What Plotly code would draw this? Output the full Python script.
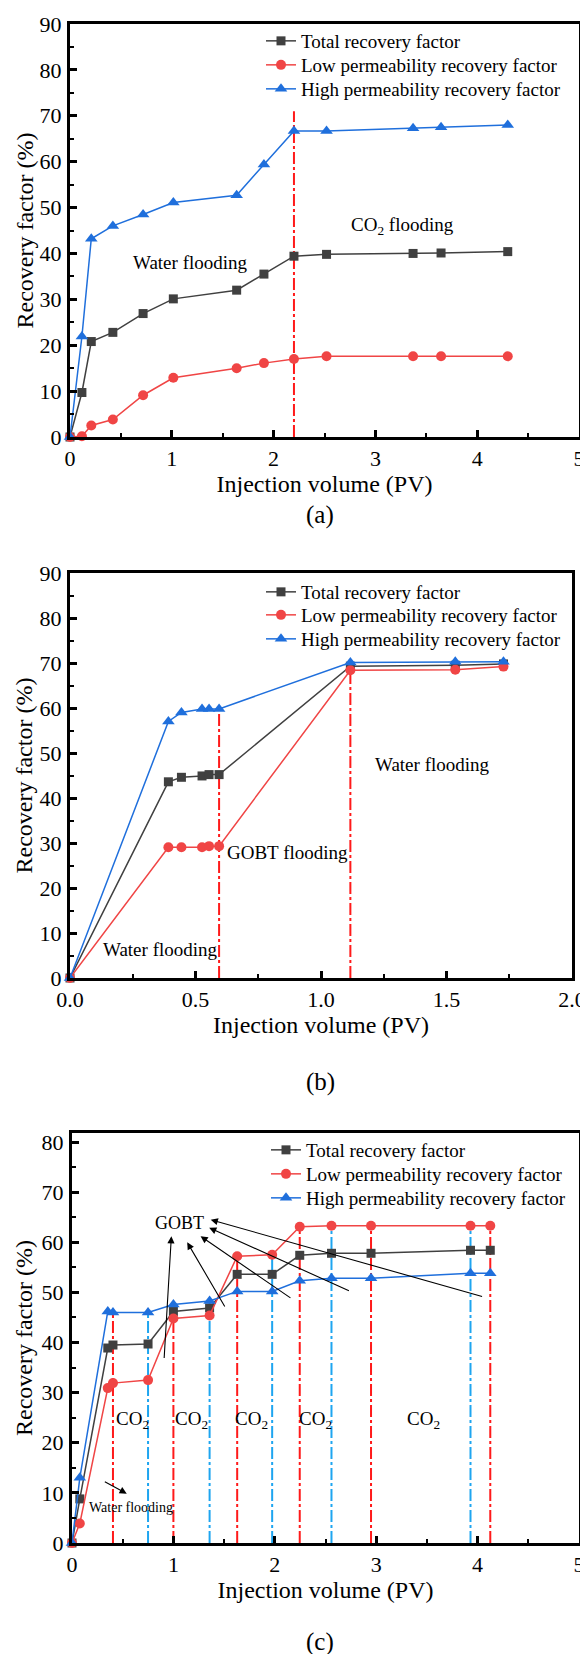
import plotly.graph_objects as go

# ---------------- data ----------------
series_names = ["Total recovery factor",
                "Low permeability recovery factor",
                "High permeability recovery factor"]
x_title = "Injection volume (PV)"
y_title = "Recovery factor (%)"

# Panel (a)
a_x = [0, 0.117, 0.209, 0.421, 0.718, 1.015, 1.637, 1.905, 2.20, 2.52, 3.37, 3.645, 4.30]
a_total = [0, 9.7, 20.8, 22.8, 26.9, 30.1, 32.0, 35.5, 39.4, 39.8, 40.0, 40.1, 40.4]
a_low = [0, 0.15, 2.5, 3.8, 9.1, 12.9, 15.0, 16.1, 17.0, 17.6, 17.6, 17.6, 17.6]
a_high = [0, 21.9, 43.2, 46.0, 48.5, 51.1, 52.7, 59.4, 66.7, 66.7, 67.3, 67.5, 68.0]
a_switch_x = [2.20]
a_switch_top = [71.0]

# Panel (b)
b_x = [0, 0.392, 0.444, 0.526, 0.554, 0.594, 1.117, 1.535, 1.727]
b_total = [0, 43.6, 44.6, 44.9, 45.2, 45.2, 69.3, 69.5, 69.8]
b_low = [0, 29.05, 29.05, 29.05, 29.3, 29.3, 68.4, 68.5, 69.2]
b_high = [0, 57.0, 59.0, 59.8, 59.8, 59.8, 70.1, 70.3, 70.3]
b_switch_idx = [5, 6]

# Panel (c)
c_x = [0, 0.077, 0.353, 0.404, 0.75, 1.0, 1.357, 1.629, 1.974, 2.246, 2.559, 2.949, 3.93, 4.125]
c_total = [0, 8.8, 38.9, 39.5, 39.7, 46.2, 46.9, 53.6, 53.6, 57.4, 57.8, 57.8, 58.4, 58.4]
c_low = [0, 3.9, 30.9, 31.9, 32.5, 44.8, 45.4, 57.2, 57.5, 63.1, 63.3, 63.3, 63.3, 63.3]
c_high = [0, 13.0, 46.2, 46.0, 46.0, 47.6, 48.3, 50.2, 50.2, 52.3, 52.8, 52.8, 53.8, 53.8]
# switch lines: red = CO2 start, blue = GOBT start
c_switch_idx = [3, 4, 5, 6, 7, 8, 9, 10, 11, 12, 13]
c_switch_kind = ["r", "b", "r", "b", "r", "b", "r", "b", "r", "b", "r"]

# ---------------- style ----------------
FONT = "Liberation Serif"
PAGE_W, PAGE_H = 588, 1654
OFF = 8                      # default page body margin
W, H = PAGE_W - OFF, PAGE_H - OFF
COL_TOTAL = "#404040"
COL_LOW = "#F04545"
COL_HIGH = "#1F6FDC"
COL_VRED = "#FF1A1A"
COL_VBLUE = "#1EA5F0"
DASHDOT = "12px,3px,3px,3px"


def px(xp):
    return (xp - OFF) / W


def py(yp):
    return 1 - (yp - OFF) / H


fig = go.Figure()


def vline(xa, ya, xv, top, color):
    fig.add_trace(go.Scatter(x=[xv, xv], y=[0, top], mode="lines",
                             line=dict(color=color, width=2, dash=DASHDOT),
                             showlegend=False, hoverinfo="skip",
                             xaxis=xa, yaxis=ya, cliponaxis=False))


legend_counter = [0]


def next_legend():
    legend_counter[0] += 1
    n = legend_counter[0]
    return "legend" if n == 1 else f"legend{n}"


def add_series(xa, ya, x, total, low, high):
    specs = [(series_names[0], total, COL_TOTAL, "square", 9),
             (series_names[1], low, COL_LOW, "circle", 10),
             (series_names[2], high, COL_HIGH, "triangle-up", 11)]
    for name, ys, col, sym, sz in specs:
        fig.add_trace(go.Scatter(x=x, y=ys, mode="lines+markers", name=name,
                                 line=dict(color=col, width=1.5),
                                 marker=dict(symbol=sym, size=sz, color=col),
                                 xaxis=xa, yaxis=ya, legend=next_legend(),
                                 cliponaxis=False))


# panel a
for xv, top in zip(a_switch_x, a_switch_top):
    vline("x", "y", xv, top, COL_VRED)
add_series("x", "y", a_x, a_total, a_low, a_high)

# panel b
for i in b_switch_idx:
    vline("x2", "y2", b_x[i], max(b_total[i], b_low[i], b_high[i]), COL_VRED)
add_series("x2", "y2", b_x, b_total, b_low, b_high)

# panel c
for i, k in zip(c_switch_idx, c_switch_kind):
    vline("x3", "y3", c_x[i], max(c_total[i], c_low[i], c_high[i]),
          COL_VRED if k == "r" else COL_VBLUE)
add_series("x3", "y3", c_x, c_total, c_low, c_high)


def xaxis(domain, rng, dtick, mdtick, anchor, fmt=None):
    d = dict(domain=domain, range=rng, dtick=dtick, tick0=0, anchor=anchor,
             automargin=False,
             showline=True, linewidth=3, linecolor="black", mirror=True,
             ticks="inside", ticklen=7, tickwidth=2.5, tickcolor="black",
             showgrid=False, zeroline=False, ticklabelstandoff=0,
             tickfont=dict(family=FONT, size=22, color="black"),
             minor=dict(dtick=mdtick, ticks="inside", ticklen=4, tickwidth=2,
                        tickcolor="black", showgrid=False),
             title=dict(text=x_title, standoff=0,
                        font=dict(family=FONT, size=24, color="black")))
    if fmt:
        d["tickformat"] = fmt
    return d


def yaxis(domain, rng, anchor):
    return dict(domain=domain, range=rng, dtick=10, tick0=0, anchor=anchor,
                automargin=False,
                showline=True, linewidth=3, linecolor="black", mirror=True,
                ticks="inside", ticklen=7, tickwidth=2.5, tickcolor="black",
                showgrid=False, zeroline=False, ticklabelstandoff=1,
                tickfont=dict(family=FONT, size=22, color="black"),
                minor=dict(dtick=5, ticks="inside", ticklen=4, tickwidth=2,
                           tickcolor="black", showgrid=False))


def legend_box(x_px, mid_px):
    return dict(x=px(x_px), y=py(mid_px), xanchor="left", yanchor="middle",
                bgcolor="rgba(0,0,0,0)", borderwidth=0,
                font=dict(family=FONT, size=19, color="black"),
                itemwidth=30)


# one legend per entry so that rows sit at the reference spacing
legend_rows = [(261, 41), (261, 65), (261, 89),
               (261, 592), (261, 615), (261, 639),
               (266, 1150), (266, 1174), (266, 1198)]
legends = {}
for n, (lx, ly) in enumerate(legend_rows, start=1):
    key = "legend" if n == 1 else f"legend{n}"
    legends[key] = legend_box(lx, ly)

annotations = []


def note(xref, yref, x, y, text, size=19):
    annotations.append(dict(x=x, y=y, xref=xref, yref=yref, text=text,
                            showarrow=False, xanchor="center", yanchor="middle",
                            font=dict(family=FONT, size=size, color="black")))


note("x", "y", 1.18, 38.0, "Water flooding")
note("x", "y", 3.27, 46.0, "CO<sub>2</sub> flooding")
note("x2", "y2", 0.36, 6.4, "Water flooding")
note("x2", "y2", 0.867, 27.9, "GOBT flooding")
note("x2", "y2", 1.443, 47.4, "Water flooding")
for cx in [0.60, 1.18, 1.77, 2.40, 3.47]:
    note("x3", "y3", cx, 24.5, "CO<sub>2</sub>", size=19)
note("x3", "y3", 1.06, 63.9, "GOBT", size=18)
note("x3", "y3", 0.585, 7.1, "Water flooding", size=14)

# arrows in panel (c): (tail x, tail y, head x, head y)
gobt_arrows = [(0.908, 36.6, 0.98, 61.2),
               (1.515, 46.9, 1.136, 60.0),
               (2.169, 48.7, 1.268, 61.2),
               (2.746, 50.2, 1.353, 62.9),
               (4.059, 49.1, 1.368, 64.5),
               (0.309, 12.4, 0.54, 9.85)]
for tx, ty, hx, hy in gobt_arrows:
    annotations.append(dict(x=hx, y=hy, ax=tx, ay=ty, xref="x3", yref="y3",
                            axref="x3", ayref="y3", text="", showarrow=True,
                            arrowhead=2, arrowsize=1.3, arrowwidth=1.1,
                            arrowcolor="black", standoff=0))

# y-axis titles (rotated), centred on each panel
for top, bottom in [(24, 437), (573, 978), (1133, 1543)]:
    annotations.append(dict(x=px(24), y=py((top + bottom) / 2), xref="paper",
                            yref="paper", text=y_title, textangle=-90,
                            showarrow=False, xanchor="center", yanchor="middle",
                            font=dict(family=FONT, size=24, color="black")))

for label, yp in [("(a)", 515), ("(b)", 1082), ("(c)", 1642)]:
    annotations.append(dict(x=px(320), y=py(yp), xref="paper", yref="paper",
                            text=label, showarrow=False,
                            xanchor="center", yanchor="middle",
                            font=dict(family=FONT, size=25, color="black")))

fig.update_layout(
    template="none",
    width=W, height=H, margin=dict(l=0, r=0, t=0, b=0, pad=0),
    paper_bgcolor="white", plot_bgcolor="white",
    font=dict(family=FONT, color="black"),
    xaxis=xaxis([px(70), px(579)], [0, 5], 1, 0.5, "y"),
    yaxis=yaxis([py(437), py(24)], [0, 90], "x"),
    xaxis2=xaxis([px(70), px(572)], [0, 2], 0.5, 0.25, "y2", fmt=".1f"),
    yaxis2=yaxis([py(978), py(573)], [0, 90], "x2"),
    xaxis3=xaxis([px(72), px(579)], [0, 5], 1, 0.5, "y3"),
    yaxis3=yaxis([py(1543), py(1133)], [0, 81.8], "x3"),
    annotations=annotations,
    showlegend=True,
    **legends,
)

fig.write_html("out.html")
